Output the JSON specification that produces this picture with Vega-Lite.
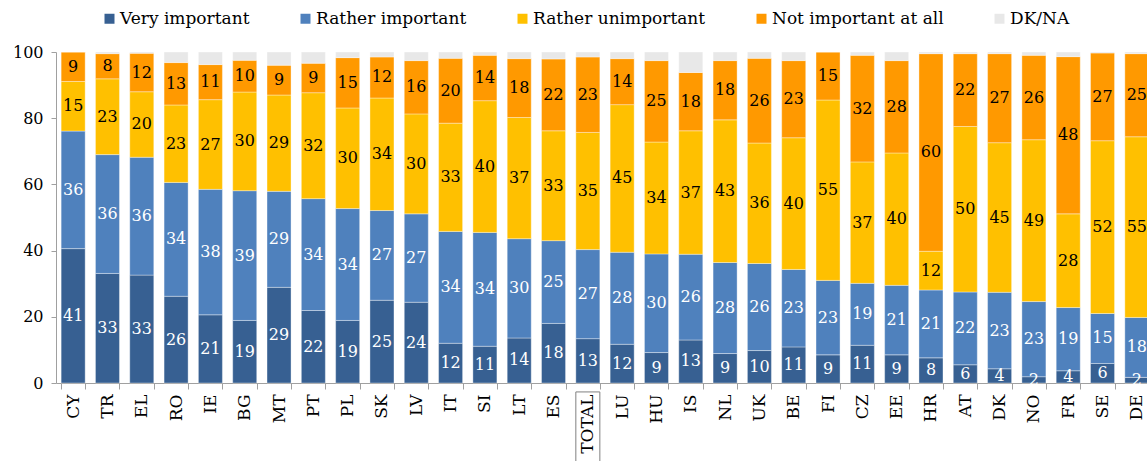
{
  "$schema": "https://vega.github.io/schema/vega-lite/v6.json",
  "autosize": {"type": "none"},
  "padding": {"left": 56, "top": 52, "right": 0, "bottom": 78},
  "width": 1098,
  "height": 331,
  "config": {
    "font": "DejaVu Serif",
    "view": {"stroke": null},
    "axis": {"domainColor": "#a0a0a0", "tickColor": "#a0a0a0", "labelColor": "black", "labelFont": "DejaVu Serif", "labelFontSize": 16, "grid": false}
  },
  "datasets": {
    "cats": [
      {"k": "VI", "cat": "Very important", "rank": 1},
      {"k": "RI", "cat": "Rather important", "rank": 2},
      {"k": "RU", "cat": "Rather unimportant", "rank": 3},
      {"k": "NI", "cat": "Not important at all", "rank": 4},
      {"k": "NA", "cat": "DK/NA", "rank": 5}
    ]
  },
  "data": {"values": [
    {"c": "CY", "VI": 40.6, "RI": 35.5, "RU": 15.0, "NI": 8.9, "NA": 0},
    {"c": "TR", "VI": 33.1, "RI": 35.9, "RU": 22.9, "NI": 7.6, "NA": 0.5},
    {"c": "EL", "VI": 32.6, "RI": 35.6, "RU": 19.8, "NI": 11.6, "NA": 0.4},
    {"c": "RO", "VI": 26.2, "RI": 34.4, "RU": 23.4, "NI": 12.8, "NA": 3.2},
    {"c": "IE", "VI": 20.6, "RI": 37.9, "RU": 27.1, "NI": 10.6, "NA": 3.8},
    {"c": "BG", "VI": 18.9, "RI": 39.2, "RU": 29.8, "NI": 9.6, "NA": 2.5},
    {"c": "MT", "VI": 28.9, "RI": 29.0, "RU": 29.1, "NI": 9.0, "NA": 4.0},
    {"c": "PT", "VI": 21.9, "RI": 33.8, "RU": 32.0, "NI": 8.9, "NA": 3.4},
    {"c": "PL", "VI": 18.9, "RI": 33.8, "RU": 30.4, "NI": 15.2, "NA": 1.7},
    {"c": "SK", "VI": 25.0, "RI": 27.1, "RU": 34.0, "NI": 12.4, "NA": 1.5},
    {"c": "LV", "VI": 24.4, "RI": 26.7, "RU": 30.2, "NI": 16.1, "NA": 2.6},
    {"c": "IT", "VI": 12.0, "RI": 33.8, "RU": 32.7, "NI": 19.6, "NA": 1.9},
    {"c": "SI", "VI": 11.1, "RI": 34.4, "RU": 39.8, "NI": 13.7, "NA": 1.0},
    {"c": "LT", "VI": 13.6, "RI": 30.0, "RU": 36.6, "NI": 17.8, "NA": 2.0},
    {"c": "ES", "VI": 18.0, "RI": 25.0, "RU": 33.2, "NI": 21.7, "NA": 2.1},
    {"c": "TOTAL", "VI": 13.4, "RI": 26.9, "RU": 35.4, "NI": 22.8, "NA": 1.5},
    {"c": "LU", "VI": 11.7, "RI": 27.8, "RU": 44.6, "NI": 13.9, "NA": 2.0},
    {"c": "HU", "VI": 9.2, "RI": 29.8, "RU": 33.8, "NI": 24.6, "NA": 2.6},
    {"c": "IS", "VI": 13.0, "RI": 25.9, "RU": 37.3, "NI": 17.6, "NA": 6.2},
    {"c": "NL", "VI": 8.9, "RI": 27.5, "RU": 43.1, "NI": 17.9, "NA": 2.6},
    {"c": "UK", "VI": 9.8, "RI": 26.3, "RU": 36.4, "NI": 25.6, "NA": 1.9},
    {"c": "BE", "VI": 10.9, "RI": 23.4, "RU": 39.8, "NI": 23.3, "NA": 2.6},
    {"c": "FI", "VI": 8.5, "RI": 22.5, "RU": 54.5, "NI": 14.5, "NA": 0},
    {"c": "CZ", "VI": 11.4, "RI": 18.7, "RU": 36.7, "NI": 32.2, "NA": 1.0},
    {"c": "EE", "VI": 8.5, "RI": 21.0, "RU": 40.0, "NI": 27.9, "NA": 2.6},
    {"c": "HR", "VI": 7.6, "RI": 20.5, "RU": 11.7, "NI": 59.7, "NA": 0.5},
    {"c": "AT", "VI": 5.5, "RI": 22.0, "RU": 50.0, "NI": 22.0, "NA": 0.5},
    {"c": "DK", "VI": 4.3, "RI": 23.1, "RU": 45.2, "NI": 26.9, "NA": 0.5},
    {"c": "NO", "VI": 1.9, "RI": 22.7, "RU": 48.9, "NI": 25.5, "NA": 1.0},
    {"c": "FR", "VI": 3.7, "RI": 19.1, "RU": 28.3, "NI": 47.5, "NA": 1.4},
    {"c": "SE", "VI": 5.9, "RI": 15.1, "RU": 52.2, "NI": 26.5, "NA": 0.3},
    {"c": "DE", "VI": 1.7, "RI": 18.1, "RU": 54.6, "NI": 25.1, "NA": 0.5}
  ]},
  "transform": [
    {"fold": ["VI", "RI", "RU", "NI", "NA"], "as": ["k", "value"]},
    {"lookup": "k", "from": {"data": {"name": "cats"}, "key": "k", "fields": ["cat", "rank"]}}
  ],
  "encoding": {
    "x": {
      "field": "c", "type": "nominal",
      "sort": ["CY","TR","EL","RO","IE","BG","MT","PT","PL","SK","LV","IT","SI","LT","ES","TOTAL","LU","HU","IS","NL","UK","BE","FI","CZ","EE","HR","AT","DK","NO","FR","SE","DE"],
      "scale": {"paddingInner": 0.3, "paddingOuter": 0.15},
      "axis": {"title": null, "tickBand": "extent", "labelAngle": -90, "tickSize": 6, "labelPadding": 5, "labelFontSize": 17}
    }
  },
  "layer": [
    {
      "mark": {"type": "bar", "stroke": "white", "strokeWidth": 0.6, "strokeOpacity": 0.6},
      "encoding": {
        "y": {"field": "value", "type": "quantitative", "stack": "zero", "scale": {"domain": [0, 100], "nice": false},
              "axis": {"title": null, "values": [0, 20, 40, 60, 80, 100], "tickSize": 5, "labelPadding": 8}},
        "color": {
          "field": "cat", "type": "nominal",
          "scale": {"domain": ["Very important", "Rather important", "Rather unimportant", "Not important at all", "DK/NA"],
                    "range": ["#376092", "#4F81BD", "#FFC000", "#FF9900", "#E8E8E8"]},
          "legend": {"orient": "none", "legendX": 45, "legendY": -42, "direction": "horizontal", "columns": 5, "title": null,
                     "symbolType": "square", "symbolSize": 100, "symbolStrokeWidth": 0, "labelFontSize": 17, "labelFont": "DejaVu Serif",
                     "labelColor": "black", "columnPadding": 47, "labelOffset": 2, "padding": 0, "labelLimit": 0}
        },
        "order": {"field": "rank", "type": "quantitative"}
      }
    },
    {
      "transform": [{"filter": "datum.k != 'NA'"}],
      "mark": {"type": "text", "fontSize": 16, "font": "DejaVu Serif"},
      "encoding": {
        "y": {"field": "value", "type": "quantitative", "stack": "zero", "bandPosition": 0.5, "axis": {"title": null}},
        "detail": {"field": "cat"},
        "order": {"field": "rank", "type": "quantitative"},
        "text": {"field": "value", "type": "quantitative", "format": ".0f"},
        "color": {"condition": {"test": "datum.rank <= 2", "value": "white"}, "value": "black"}
      }
    },
    {
      "transform": [{"filter": "datum.c == 'TOTAL' && datum.k == 'VI'"}],
      "mark": {"type": "rect", "fill": "transparent", "stroke": "#808080", "strokeWidth": 1},
      "encoding": {
        "y": {"datum": -2.7, "type": "quantitative", "axis": {"title": null}},
        "y2": {"datum": -24}
      }
    }
  ]
}
